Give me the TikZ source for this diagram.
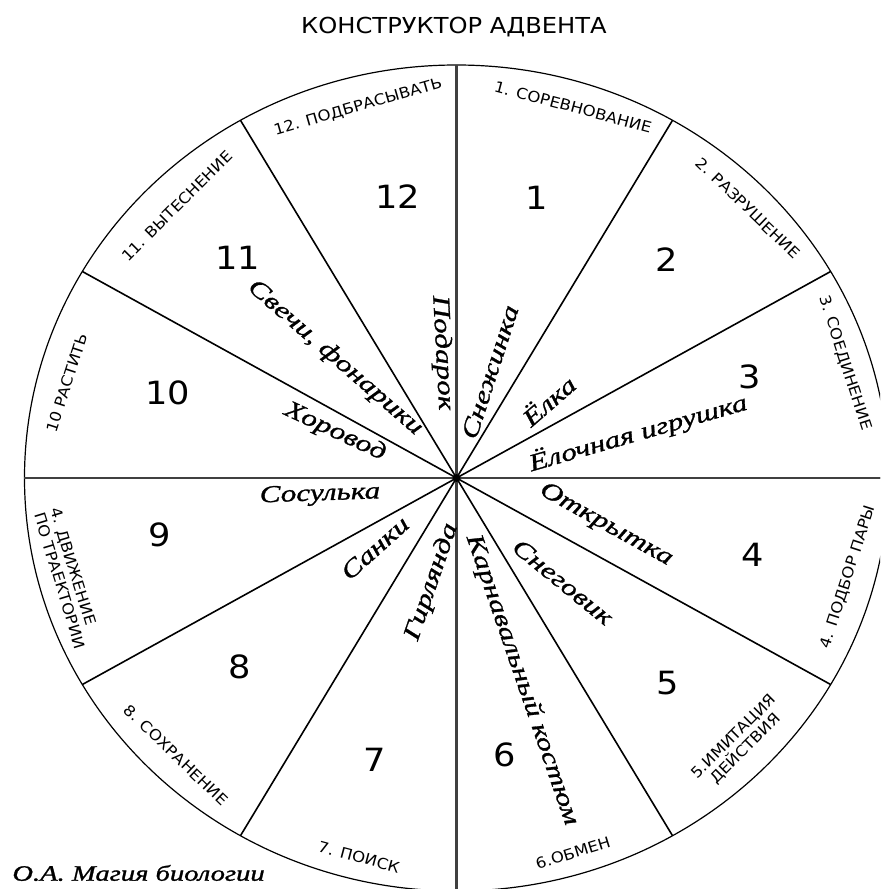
\documentclass[tikz,border=0pt]{standalone}
\usepackage{fontspec}
\setmainfont[FakeStretch=1.1]{DejaVu Sans}
\newfontfamily\handfont[FakeStretch=1.3, FakeBold=1.2]{Liberation Serif}
\tikzset{
	advent wheel/.cd,
	rim/.style = {
		line width = 0.6pt
	},
	spoke/.style = {
		line width = 0.8pt
	},
	axis/.style = {
		line width = 1.3pt,
		black!75
	},
}

\begin{document}
\begin{tikzpicture}[
		x = 0.5pt, y = 0.5pt,
		sectornum/.style = {
			font = \fontsize{16}{16}\selectfont
		},
		motif/.style = {
			font = \handfont\itshape\fontsize{12}{12}\selectfont,
			inner sep = 0pt
		},
		task/.style = {
			font = \fontsize{7.5}{8.5}\selectfont,
			align = center,
			inner sep = 0pt
		}]
		\def\rx{432}
		\def\ry{413}
		\useasboundingbox (-456.5, -411) rectangle (423.5, 478);
		\clip (-456.5, -411) rectangle (423.5, 478);
		\begin{scope}
			\coordinate (hub) at (0, 0);
			\draw[advent wheel/rim] (hub) ellipse [x radius = \rx, y radius = \ry];
			\foreach \a in {0, 30, ..., 330}{
				\coordinate (rim-\a) at ({\rx * cos(\a)}, {\ry * sin(\a)});
				\draw[advent wheel/spoke] (hub) -- (rim-\a);
			}
			\draw[advent wheel/axis] (rim-0) -- (rim-180);
			\draw[advent wheel/axis] (rim-90) -- (rim-270);
			\fill (hub) circle [radius = 4];
			\foreach \n/\px/\py in {1/80.5/280, 2/210.5/218, 3/293.5/101, 4/296.5/-77,
				5/211.5/-205, 6/48.5/-277, 7/-81.5/-282, 8/-216.5/-189,
				9/-296.5/-57, 10/-288.5/85, 11/-218.5/220, 12/-58.5/281}{
				\node[sectornum] (num-\n) at (\px, \py) {\n};
			}
		\end{scope}
		\node[motif, rotate = 72] (snowflake) at (33.5, 106) {Снежинка};
		\node[motif, rotate = 41] (tree) at (91.5, 78) {Ёлка};
		\node[motif, rotate = 16] (bauble) at (181.5, 45) {Ёлочная игрушка};
		\node[motif, rotate = -29] (card) at (149.5, -47) {Открытка};
		\node[motif, rotate = -39] (snowman) at (106.5, -104) {Снеговик};
		\node[motif, rotate = -71] (costume) at (65.5, -202) {Карнавальный костюм};
		\node[motif, rotate = 71] (garland) at (-24.5, -104) {Гирлянда};
		\node[motif, rotate = 42] (sledge) at (-81.5, -70) {Санки};
		\node[motif, rotate = 2] (icicle) at (-136.5, -17) {Сосулька};
		\node[motif, rotate = -25] (dance) at (-121.5, 46) {Хоровод};
		\node[motif, rotate = -41] (candles) at (-121.5, 120) {Свечи, фонарики};
		\node[motif, rotate = -87] (gift) at (-14.5, 125) {Подарок};
		\node[task, rotate = -15] (task-1) at (116.5, 371) {1. СОРЕВНОВАНИЕ};
		\node[task, rotate = -44] (task-2) at (291.5, 270) {2. РАЗРУШЕНИЕ};
		\node[task, rotate = -72] (task-3) at (388.5, 115) {3. СОЕДИНЕНИЕ};
		\node[task, rotate = 72] (task-4) at (391.5, -99) {4. ПОДБОР ПАРЫ};
		\node[task, rotate = 45] (task-5) at (283.5, -265) {5.ИМИТАЦИЯ\\ДЕЙСТВИЯ};
		\node[task, rotate = 17] (task-6) at (116.5, -375) {6.ОБМЕН};
		\node[task, rotate = -15] (task-7) at (-97.5, -379) {7. ПОИСК};
		\node[task, rotate = -44] (task-8) at (-280.5, -277) {8. СОХРАНЕНИЕ};
		\node[task, align = left, rotate = -73] (task-9) at (-388.5, -100) {4. ДВИЖЕНИЕ\\ПО ТРАЕКТОРИИ};
		\node[task, rotate = 72] (task-10) at (-389.5, 95) {10 РАСТИТЬ};
		\node[task, rotate = 45] (task-11) at (-279.5, 272) {11. ВЫТЕСНЕНИЕ};
		\node[task, rotate = 16] (task-12) at (-98.5, 371) {12. ПОДБРАСЫВАТЬ};
		\node[font = \fontsize{11}{11}\selectfont] (title) at (-2.5, 451) {КОНСТРУКТОР АДВЕНТА};
		\node[motif, font = \handfont\itshape\fontsize{11}{11}\selectfont, anchor = west] (author) at (-444.5, -395) {О.А. Магия биологии};
	\end{tikzpicture}
\end{document}
